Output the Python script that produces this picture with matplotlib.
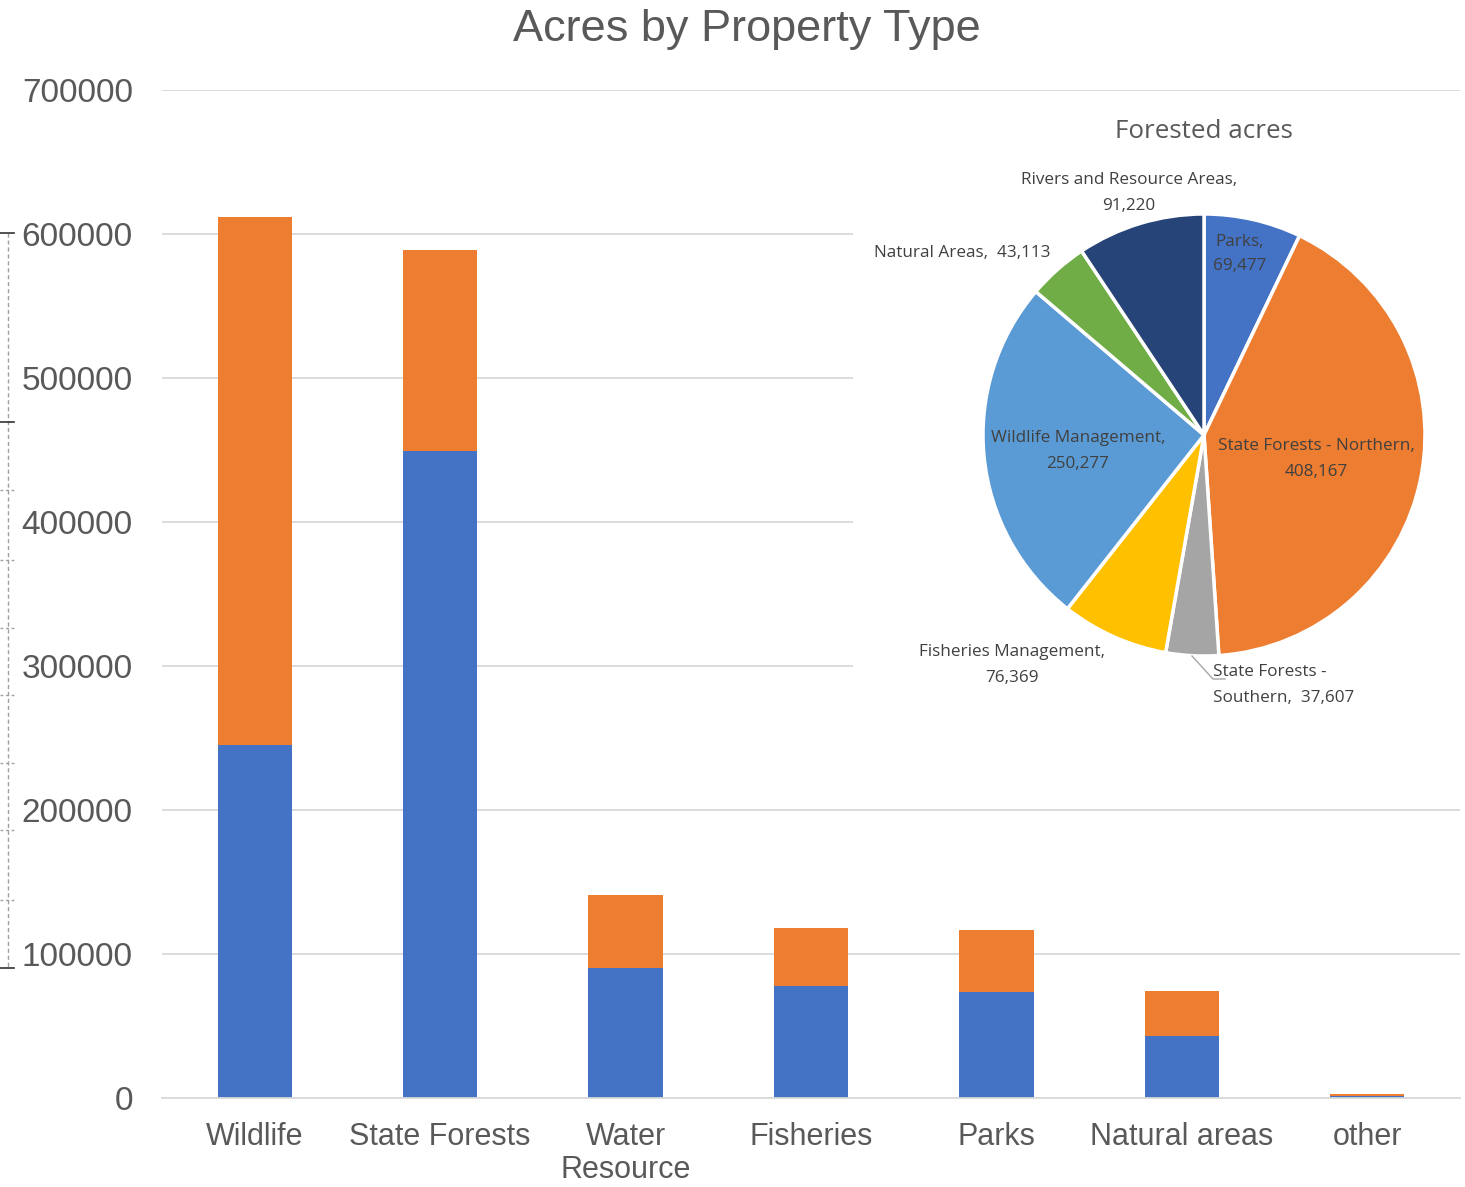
import matplotlib
matplotlib.use('Agg')
import matplotlib.pyplot as plt
from matplotlib.lines import Line2D
import numpy as np

# bar chart data
categories = ['Wildlife', 'State Forests', 'Water\nResource', 'Fisheries', 'Parks', 'Natural areas', 'other']
forested = [245000, 449000, 90000, 78000, 73500, 43000, 1200]
other_acres = [367000, 140000, 51000, 40000, 43000, 31300, 1800]

# pie data (forested acres)
pie_labels = ['Parks', 'State Forests - Northern', 'State Forests -\nSouthern', 'Fisheries Management',
              'Wildlife Management', 'Natural Areas', 'Rivers and Resource Areas']
pie_values = [69477, 408167, 37607, 76369, 250277, 43113, 91220]
pie_colors = ['#4472C4', '#ED7D31', '#A5A5A5', '#FFC000', '#5B9BD5', '#70AD47', '#264478']

W, H = 1465, 1187
fig = plt.figure(figsize=(W / 100, H / 100), dpi=100)
txt = '#595959'

ax = fig.add_axes([162 / W, 89 / H, (1460 - 162) / W, (1098 - 90) / H])
x = np.arange(len(categories))
ax.bar(x, forested, width=0.40, color='#4472C4', zorder=2)
ax.bar(x, other_acres, width=0.40, bottom=forested, color='#ED7D31', zorder=2)
ax.set_xlim(-0.5, len(categories) - 0.5)
ax.set_ylim(0, 700000)
ax.set_yticks(np.arange(0, 700001, 100000))
ax.yaxis.grid(True, color='#d9d9d9', linewidth=1.3, zorder=0)
ax.set_axisbelow(True)
for s in ['top', 'right', 'left']:
    ax.spines[s].set_visible(False)
ax.spines['bottom'].set_color('#d9d9d9')
ax.spines['bottom'].set_linewidth(1.3)
ax.set_xticks(x)
ax.set_xticklabels(categories, fontsize=22, color=txt, family='Liberation Sans', linespacing=1.15)
ax.tick_params(axis='x', length=0, pad=17)
ax.tick_params(axis='y', length=0, pad=21, labelsize=24, labelcolor=txt)
for lb in ax.get_yticklabels():
    lb.set_family('Liberation Sans')
fig.text(747 / W, 1 - 30 / H, 'Acres by Property Type', ha='center', va='center',
         fontsize=32.5, color=txt, family='Liberation Sans')

# inset pie, axes units are pixels (y up)
pax = fig.add_axes([853 / W, 1 - 805 / H, (1460 - 853) / W, (805 - 95) / H])
pax.add_patch(plt.Rectangle((853, -805), 607, 710, color='white', zorder=0))
pax.pie(pie_values, colors=pie_colors, startangle=90, counterclock=False,
        center=(1204, -435), radius=221, frame=True,
        wedgeprops=dict(edgecolor='white', linewidth=2.5))
pax.set_xlim(853, 1460)
pax.set_ylim(-805, -95)
pax.set_aspect('equal')
pax.axis('off')
pax.text(1204, -131, 'Forested acres', ha='center', va='center', fontsize=18.7,
         color='#595959', family='Open Sans')

lab_fs = 12.3
lab_pos = [(1240, -254, 'center'), (1316, -459, 'center'), (1213, -685, 'left'),
           (1012, -665, 'center'), (1078, -451, 'center'), (962, -253, 'center'),
           (1129, -193, 'center')]
for name, val, (px, py, ha) in zip(pie_labels, pie_values, lab_pos):
    if name == 'Natural Areas' or '\n' in name:
        s = f'{name},  {val:,}'
    else:
        s = f'{name},\n{val:,}'
    pax.text(px, py, s, ha=ha, va='center', fontsize=lab_fs, color='#404040',
             family='Open Sans', linespacing=1.75, multialignment='center' if ha == 'center' else 'left')
pax.plot([1192, 1213, 1225], [-656, -679, -679], color='#a6a6a6', lw=1)

# selection handle artifact on left edge
fig.add_artist(Line2D([8 / W, 8 / W], [1 - 233 / H, 1 - 968 / H], color='#a0a0a0', lw=1, ls=(0, (3, 2))))
for yy in [233, 422, 968]:
    fig.add_artist(Line2D([0, 14 / W], [1 - yy / H, 1 - yy / H], color='#333333', lw=1.2))
for yy in [490, 560, 628, 695, 763, 830, 900]:
    fig.add_artist(Line2D([0, 14 / W], [1 - yy / H, 1 - yy / H], color='#a0a0a0', lw=1, ls=(0, (2, 2))))

fig.savefig('out.png', dpi=100)
